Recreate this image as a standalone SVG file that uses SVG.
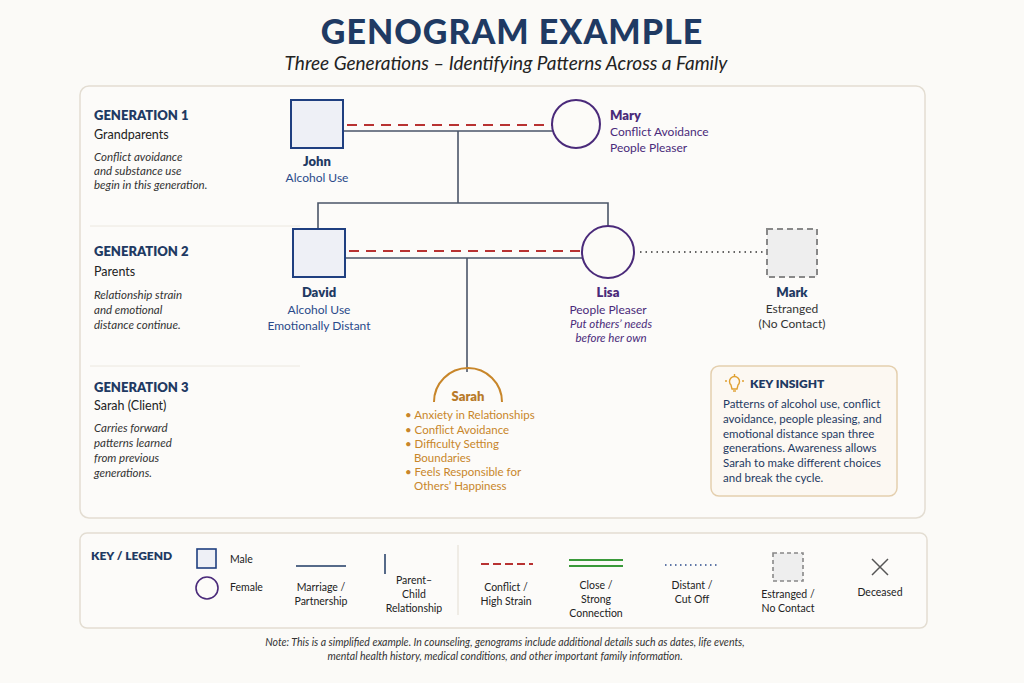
<svg xmlns="http://www.w3.org/2000/svg" width="1024" height="683" viewBox="0 0 1024 683">
<style>
text{font-family:Lato,"Liberation Sans",sans-serif;fill:#1f3a63}
.t{font-size:34px;font-weight:900;letter-spacing:1px}
.sub{font-size:19px;font-style:italic;fill:#222}
.gh{font-size:13px;font-weight:800}
.gs{font-size:12.5px;fill:#222}
.gi{font-size:11.5px;font-style:italic;fill:#333}
.nm{font-size:13px;font-weight:800}
.nb{font-size:12px;fill:#2a4a8a}
.fm{fill:#4a2a7a}
.fi{font-size:11.5px;font-style:italic;fill:#4a2a7a}
.or{fill:#c8862a;font-size:11.5px}
.ki{font-size:11.5px;fill:#1f3a63}
.lg{font-size:10.5px;fill:#222}
.note{font-size:10.5px;font-style:italic;fill:#333}
.m{stroke:#4a5568;stroke-width:1.6;fill:none}
.c{stroke:#b83232;stroke-width:2;stroke-dasharray:10 7;fill:none}
.sq{fill:#eef0f6;stroke:#1f3f80;stroke-width:2}
.ci{fill:#fcfbf8;stroke:#4a2a7a;stroke-width:2}
</style>
<rect width="1024" height="683" fill="#fbfaf7"/>
<text class="t" x="512" y="44" text-anchor="middle">GENOGRAM EXAMPLE</text>
<text class="sub" x="506" y="70" text-anchor="middle">Three Generations – Identifying Patterns Across a Family</text>
<rect x="80" y="86" width="845" height="432" rx="9" fill="#fcfbf9" stroke="#e3ddd2" stroke-width="1.5"/>
<line x1="90" y1="226" x2="300" y2="226" stroke="#ece8e0"/>
<line x1="90" y1="366" x2="300" y2="366" stroke="#ece8e0"/>
<g id="gen-labels">
<text class="gh" x="94" y="120">GENERATION 1</text>
<text class="gs" x="94" y="139">Grandparents</text>
<text class="gi" x="94" y="161">Conflict avoidance</text>
<text class="gi" x="94" y="175">and substance use</text>
<text class="gi" x="94" y="189">begin in this generation.</text>
<text class="gh" x="94" y="256">GENERATION 2</text>
<text class="gs" x="94" y="276">Parents</text>
<text class="gi" x="94" y="299">Relationship strain</text>
<text class="gi" x="94" y="314">and emotional</text>
<text class="gi" x="94" y="329">distance continue.</text>
<text class="gh" x="94" y="392">GENERATION 3</text>
<text class="gs" x="94" y="410">Sarah (Client)</text>
<text class="gi" x="94" y="432">Carries forward</text>
<text class="gi" x="94" y="447">patterns learned</text>
<text class="gi" x="94" y="462">from previous</text>
<text class="gi" x="94" y="477">generations.</text>
</g>
<g id="connectors">
<line class="c" x1="347" y1="125" x2="552" y2="125"/>
<line class="m" x1="343" y1="131" x2="553" y2="131"/>
<polyline class="m" points="458,131 458,203"/>
<polyline class="m" points="318,229 318,203 608,203 608,226"/>
<line class="c" x1="349" y1="251" x2="582" y2="251"/>
<line class="m" x1="345" y1="258" x2="583" y2="258"/>
<line class="m" x1="467" y1="258" x2="467" y2="372"/>
<line x1="640" y1="252" x2="765" y2="252" stroke="#333" stroke-width="1.6" stroke-dasharray="1.5 4"/>
</g>
<g id="john"><rect class="sq" x="291" y="100" width="52" height="48"/>
<text class="nm" x="317" y="166" text-anchor="middle">John</text>
<text class="nb" x="317" y="182" text-anchor="middle">Alcohol Use</text></g>
<g id="mary"><circle class="ci" cx="576" cy="124" r="24"/>
<text class="nm fm" x="610" y="120">Mary</text>
<text class="nb fm" x="610" y="136">Conflict Avoidance</text>
<text class="nb fm" x="610" y="152">People Pleaser</text></g>
<g id="david"><rect class="sq" x="293" y="229" width="52" height="48"/>
<text class="nm" x="319" y="297" text-anchor="middle">David</text>
<text class="nb" x="319" y="314" text-anchor="middle">Alcohol Use</text>
<text class="nb" x="319" y="330" text-anchor="middle">Emotionally Distant</text></g>
<g id="lisa"><circle class="ci" cx="608" cy="252" r="26"/>
<text class="nm fm" x="608" y="297" text-anchor="middle">Lisa</text>
<text class="nb fm" x="608" y="314" text-anchor="middle">People Pleaser</text>
<text class="fi" x="611" y="328" text-anchor="middle">Put others’ needs</text>
<text class="fi" x="611" y="342" text-anchor="middle">before her own</text></g>
<g id="mark"><rect x="767" y="229" width="50" height="48" fill="#eeeeee" stroke="#888" stroke-width="2" stroke-dasharray="6 4"/>
<text class="nm" x="792" y="297" text-anchor="middle">Mark</text>
<text class="nb" x="792" y="313" text-anchor="middle" style="fill:#333">Estranged</text>
<text class="nb" x="792" y="328" text-anchor="middle" style="fill:#333">(No Contact)</text></g>
<g id="sarah"><path d="M434,402 A34,34 0 0 1 502,402" fill="none" stroke="#c8862a" stroke-width="2"/>
<text class="nm" x="468" y="401" text-anchor="middle" style="fill:#b87a2a">Sarah</text>
<text class="or" x="405" y="419">• Anxiety in Relationships</text>
<text class="or" x="405" y="434">• Conflict Avoidance</text>
<text class="or" x="405" y="448">• Difficulty Setting</text>
<text class="or" x="414" y="462">Boundaries</text>
<text class="or" x="405" y="476">• Feels Responsible for</text>
<text class="or" x="414" y="490">Others’ Happiness</text></g>
<g id="insight"><rect x="711" y="366" width="186" height="130" rx="8" fill="#fcf8f2" stroke="#e4cfae" stroke-width="1.5"/>
<g stroke="#e0a030" stroke-width="1.4" fill="none"><path d="M731,385 a5,5 0 1 1 7,0 l-1,4 h-5 z"/><line x1="733" y1="391" x2="736" y2="391"/><line x1="734.5" y1="374" x2="734.5" y2="376"/><line x1="727" y1="381" x2="725" y2="381"/><line x1="742" y1="381" x2="744" y2="381"/></g>
<text class="gh" x="750" y="388" style="font-size:12px">KEY INSIGHT</text>
<text class="ki" x="723" y="408">Patterns of alcohol use, conflict</text>
<text class="ki" x="723" y="423">avoidance, people pleasing, and</text>
<text class="ki" x="723" y="438">emotional distance span three</text>
<text class="ki" x="723" y="452">generations. Awareness allows</text>
<text class="ki" x="723" y="467">Sarah to make different choices</text>
<text class="ki" x="723" y="482">and break the cycle.</text></g>
<g id="legend"><rect x="80" y="533" width="847" height="95" rx="7" fill="#fcfbf9" stroke="#e3ddd2" stroke-width="1.5"/>
<text class="gh" x="91" y="560" style="font-size:12px">KEY / LEGEND</text>
<rect x="197" y="549" width="19" height="19" fill="#eef0f6" stroke="#1f3f80" stroke-width="1.6"/>
<text class="lg" x="230" y="563">Male</text>
<circle cx="207" cy="588" r="11" fill="none" stroke="#4a2a7a" stroke-width="1.6"/>
<text class="lg" x="230" y="591">Female</text>
<line x1="296" y1="566" x2="346" y2="566" stroke="#1f3a63" stroke-width="1.5"/>
<text class="lg" x="321" y="591" text-anchor="middle">Marriage /</text>
<text class="lg" x="321" y="605" text-anchor="middle">Partnership</text>
<line x1="385" y1="554" x2="385" y2="574" stroke="#1f3a63" stroke-width="1.5"/>
<text class="lg" x="414" y="584" text-anchor="middle">Parent–</text>
<text class="lg" x="414" y="598" text-anchor="middle">Child</text>
<text class="lg" x="414" y="612" text-anchor="middle">Relationship</text>
<line x1="458" y1="545" x2="458" y2="615" stroke="#e3ddd2"/>
<line x1="481" y1="564" x2="533" y2="564" stroke="#b83232" stroke-width="2" stroke-dasharray="8 4"/>
<text class="lg" x="506" y="591" text-anchor="middle">Conflict /</text>
<text class="lg" x="506" y="605" text-anchor="middle">High Strain</text>
<line x1="569" y1="560" x2="623" y2="560" stroke="#3a9a3a" stroke-width="2"/>
<line x1="569" y1="566" x2="623" y2="566" stroke="#3a9a3a" stroke-width="2"/>
<text class="lg" x="596" y="589" text-anchor="middle">Close /</text>
<text class="lg" x="596" y="603" text-anchor="middle">Strong</text>
<text class="lg" x="596" y="617" text-anchor="middle">Connection</text>
<line x1="665" y1="565" x2="718" y2="565" stroke="#2a4a8a" stroke-width="1.5" stroke-dasharray="1.5 3.5"/>
<text class="lg" x="692" y="589" text-anchor="middle">Distant /</text>
<text class="lg" x="692" y="603" text-anchor="middle">Cut Off</text>
<rect x="773" y="553" width="30" height="28" fill="#eeeeee" stroke="#888" stroke-width="1.6" stroke-dasharray="4 3"/>
<text class="lg" x="788" y="598" text-anchor="middle">Estranged /</text>
<text class="lg" x="788" y="612" text-anchor="middle">No Contact</text>
<path d="M872,559 L888,575 M888,559 L872,575" stroke="#555" stroke-width="1.5"/>
<text class="lg" x="880" y="596" text-anchor="middle">Deceased</text></g>
<text class="note" x="505" y="646" text-anchor="middle">Note: This is a simplified example. In counseling, genograms include additional details such as dates, life events,</text>
<text class="note" x="505" y="660" text-anchor="middle">mental health history, medical conditions, and other important family information.</text>
</svg>
